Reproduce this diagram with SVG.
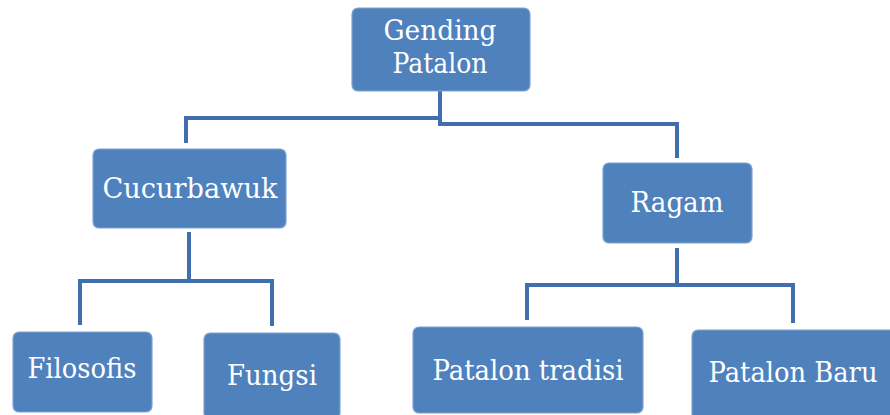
<svg xmlns="http://www.w3.org/2000/svg" width="890" height="415" viewBox="0 0 890 415">
<style>
.box{fill:#4f81bd;stroke:#7fa3d0;stroke-width:1.2}
.t{font-family:"DejaVu Serif","Liberation Serif",serif;font-size:27px;fill:#ffffff;text-anchor:middle}
.c{fill:none;stroke:#3f6faf;stroke-width:4;stroke-linejoin:miter}
</style>
<rect width="890" height="415" fill="#ffffff"/>
<g id="connectors">
<path class="c" d="M440,91 V118 H186 V143"/>
<path class="c" d="M440,118 V124 H677 V158"/>
<path class="c" d="M189,232 V281 H80 V325"/>
<path class="c" d="M189,281 H272 V326"/>
<path class="c" d="M677,248 V285 H527 V320"/>
<path class="c" d="M677,285 H793 V323"/>
</g>
<g id="gending">
<rect class="box" x="352" y="8" width="178" height="83" rx="6"/>
<text class="t" x="440" y="40" textLength="113" lengthAdjust="spacingAndGlyphs">Gending</text>
<text class="t" x="440" y="73" textLength="95" lengthAdjust="spacingAndGlyphs">Patalon</text>
</g>
<g id="cucurbawuk">
<rect class="box" x="93" y="149" width="193" height="79" rx="6"/>
<text class="t" x="190" y="198" textLength="175" lengthAdjust="spacingAndGlyphs">Cucurbawuk</text>
</g>
<g id="ragam">
<rect class="box" x="603" y="163" width="149" height="80" rx="6"/>
<text class="t" x="677" y="212" textLength="93" lengthAdjust="spacingAndGlyphs">Ragam</text>
</g>
<g id="filosofis">
<rect class="box" x="13" y="332" width="139" height="80" rx="6"/>
<text class="t" x="82" y="378" textLength="109" lengthAdjust="spacingAndGlyphs">Filosofis</text>
</g>
<g id="fungsi">
<rect class="box" x="204" y="333" width="136" height="86" rx="6"/>
<text class="t" x="272" y="385" textLength="90" lengthAdjust="spacingAndGlyphs">Fungsi</text>
</g>
<g id="patalon-tradisi">
<rect class="box" x="413" y="327" width="230" height="86" rx="6"/>
<text class="t" x="528" y="380" textLength="191" lengthAdjust="spacingAndGlyphs">Patalon tradisi</text>
</g>
<g id="patalon-baru">
<rect class="box" x="692" y="330" width="205" height="90" rx="6"/>
<text class="t" x="793" y="382" textLength="169" lengthAdjust="spacingAndGlyphs">Patalon Baru</text>
</g>
</svg>
